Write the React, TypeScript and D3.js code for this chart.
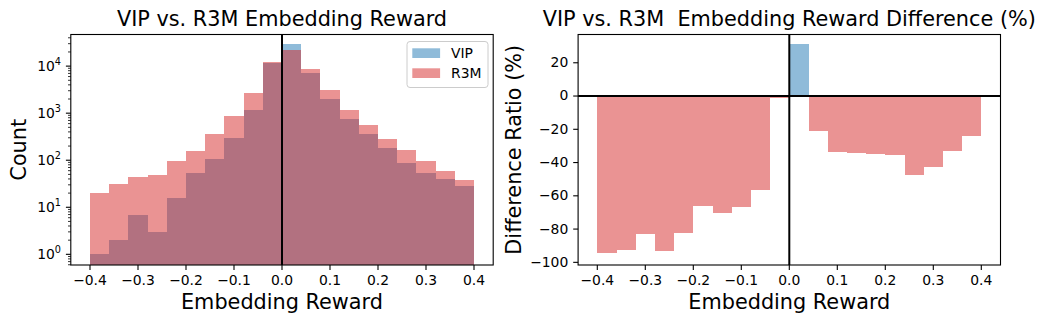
import React from 'react'
import * as d3 from 'd3'

// bin edges of the histogram (20 bins of 0.04)
const binEdges = [
	-0.4, -0.36, -0.32, -0.28, -0.24, -0.2, -0.16, -0.12, -0.08, -0.04, 0, 0.04, 0.08, 0.12, 0.16, 0.2,
	0.24, 0.28, 0.32, 0.36, 0.4,
]
const vipCounts = [1, 2, 7, 3, 16, 53, 105, 293, 1150, 11850, 28900, 7000, 1970, 740, 355, 180, 86, 53, 40, 28]
const r3mCounts = [20, 31, 44, 48, 95, 155, 355, 850, 2690, 12000, 21500, 8500, 3050, 1150, 550, 279, 163, 95, 58, 38]
const diffRatio = [
	-94.6, -92.8, -83.2, -93.4, -82.6, -65.9, -70.1, -66.5, -56.3, -1.2, 31.0, -21.0, -33.5, -34.1, -34.7, -35.3,
	-47.3, -42.5, -32.9, -24.0,
]
const xTicks = [-0.4, -0.3, -0.2, -0.1, 0, 0.1, 0.2, 0.3, 0.4]
const logTicks = [1, 10, 100, 1000, 10000]
const diffTicks = [20, 0, -20, -40, -60, -80, -100]

const BLUE = '#1f77b4'
const RED = '#d62728'
const FONT = 'DejaVu Sans, sans-serif'

const W = 1046
const H = 324
const top = 34.5
const bottom = 265
const leftPanel = { x0: 70.8, x1: 493.2 }
const rightPanel = { x0: 578.1, x1: 1000.5 }

const fmt = (v: number) => {
	const s = v.toFixed(1)
	return s.startsWith('-') ? '\u2212' + s.slice(1) : s
}

const XAxis = ({ x }: { x: d3.ScaleLinear<number, number> }) => (
	<g>
		{xTicks.map(t => (
			<g key={t} transform={`translate(${x(t)},${bottom})`}>
				<line y2={4.9} stroke="black" strokeWidth={1.1} />
				<text y={20} textAnchor="middle" fontSize={13.9}>
					{fmt(t)}
				</text>
			</g>
		))}
		<text x={(x.range()[0] + x.range()[1]) / 2} y={309} textAnchor="middle" fontSize={20.8}>
			Embedding Reward
		</text>
	</g>
)

const Frame = ({ x0, x1 }: { x0: number; x1: number }) => (
	<rect x={x0} y={top} width={x1 - x0} height={bottom - top} fill="none" stroke="black" strokeWidth={1.1} />
)

const App = () => {
	const xl = d3.scaleLinear().domain([-0.44, 0.44]).range([leftPanel.x0, leftPanel.x1])
	const xr = d3.scaleLinear().domain([-0.44, 0.44]).range([rightPanel.x0, rightPanel.x1])
	const yLog = d3.scaleLog().domain([0.593, 47000]).range([bottom, top])
	const yDiff = d3.scaleLinear().domain([-101.6, 37.0]).range([bottom, top])

	// minor ticks for the log axis
	const minor: number[] = []
	;[0.1, 1, 10, 100, 1000, 10000].forEach(base => {
		for (let k = 2; k <= 9; k++) {
			const v = base * k
			if (v >= 0.593 && v <= 47000) minor.push(v)
		}
	})

	const bins = binEdges.slice(0, -1).map((e, i) => ({ x0: e, x1: binEdges[i + 1] }))

	return (
		<svg width={W} height={H} style={{ position: 'absolute', left: 0, top: 0, fontFamily: FONT }}>
			<rect width={W} height={H} fill="white" />
			<defs>
				<clipPath id="clipL">
					<rect x={leftPanel.x0} y={top} width={leftPanel.x1 - leftPanel.x0} height={bottom - top} />
				</clipPath>
				<clipPath id="clipR">
					<rect x={rightPanel.x0} y={top} width={rightPanel.x1 - rightPanel.x0} height={bottom - top} />
				</clipPath>
			</defs>

			{/* Left: histogram on log scale */}
			<g clipPath="url(#clipL)" shapeRendering="crispEdges">
				{bins.map((b, i) => (
					<rect
						key={'v' + i}
						x={xl(b.x0)}
						width={xl(b.x1) - xl(b.x0)}
						y={yLog(vipCounts[i])}
						height={bottom + 5 - yLog(vipCounts[i])}
						fill={BLUE}
						fillOpacity={0.5}
					/>
				))}
				{bins.map((b, i) => (
					<rect
						key={'r' + i}
						x={xl(b.x0)}
						width={xl(b.x1) - xl(b.x0)}
						y={yLog(r3mCounts[i])}
						height={bottom + 5 - yLog(r3mCounts[i])}
						fill={RED}
						fillOpacity={0.5}
					/>
				))}
			</g>
			<line x1={xl(0)} x2={xl(0)} y1={top} y2={bottom} stroke="black" strokeWidth={2} />
			<Frame {...leftPanel} />
			{minor.map(v => (
				<line key={v} x1={leftPanel.x0} x2={leftPanel.x0 - 2.8} y1={yLog(v)} y2={yLog(v)} stroke="black" strokeWidth={0.8} />
			))}
			{logTicks.map((v, i) => (
				<g key={v} transform={`translate(${leftPanel.x0},${yLog(v)})`}>
					<line x2={-4.9} stroke="black" strokeWidth={1.1} />
					<text x={-9.8} dy="0.32em" textAnchor="end" fontSize={13.9}>
						10
						<tspan fontSize={9.7} dy="-0.55em">
							{i}
						</tspan>
					</text>
				</g>
			))}
			<XAxis x={xl} />
			<text transform={`translate(26,${(top + bottom) / 2}) rotate(-90)`} textAnchor="middle" fontSize={20.8}>
				Count
			</text>
			<text x={(leftPanel.x0 + leftPanel.x1) / 2} y={26} textAnchor="middle" fontSize={20.8}>
				VIP vs. R3M Embedding Reward
			</text>

			{/* legend */}
			<g>
				<rect x={407} y={41.5} width={81} height={46} rx={3} fill="white" fillOpacity={0.8} stroke="#cccccc" strokeWidth={1} />
				<rect x={412.3} y={48.3} width={27.8} height={9.7} fill={BLUE} fillOpacity={0.5} />
				<text x={451} y={58} fontSize={13.9}>
					VIP
				</text>
				<rect x={412.3} y={68.3} width={27.8} height={9.7} fill={RED} fillOpacity={0.5} />
				<text x={451} y={78} fontSize={13.9}>
					R3M
				</text>
			</g>

			{/* Right: difference ratio */}
			<g clipPath="url(#clipR)" shapeRendering="crispEdges">
				{bins.map((b, i) => {
					const v = diffRatio[i]
					return (
						<rect
							key={'d' + i}
							x={xr(b.x0)}
							width={xr(b.x1) - xr(b.x0)}
							y={yDiff(Math.max(0, v))}
							height={Math.abs(yDiff(v) - yDiff(0))}
							fill={v > 0 ? BLUE : RED}
							fillOpacity={0.5}
						/>
					)
				})}
			</g>
			<line x1={rightPanel.x0} x2={rightPanel.x1} y1={yDiff(0)} y2={yDiff(0)} stroke="black" strokeWidth={2} />
			<line x1={xr(0)} x2={xr(0)} y1={top} y2={bottom} stroke="black" strokeWidth={2} />
			<Frame {...rightPanel} />
			{diffTicks.map(v => (
				<g key={v} transform={`translate(${rightPanel.x0},${yDiff(v)})`}>
					<line x2={-4.9} stroke="black" strokeWidth={1.1} />
					<text x={-9.8} dy="0.32em" textAnchor="end" fontSize={13.9}>
						{v < 0 ? '\u2212' + Math.abs(v) : String(v)}
					</text>
				</g>
			))}
			<XAxis x={xr} />
			<text transform={`translate(521,${(top + bottom) / 2}) rotate(-90)`} textAnchor="middle" fontSize={20.8}>
				Difference Ratio (%)
			</text>
			<text
				x={(rightPanel.x0 + rightPanel.x1) / 2}
				y={26}
				textAnchor="middle"
				fontSize={20.8}
				style={{ whiteSpace: 'pre' }}
			>
				{'VIP vs. R3M  Embedding Reward Difference (%)'}
			</text>
		</svg>
	)
}

export default App
